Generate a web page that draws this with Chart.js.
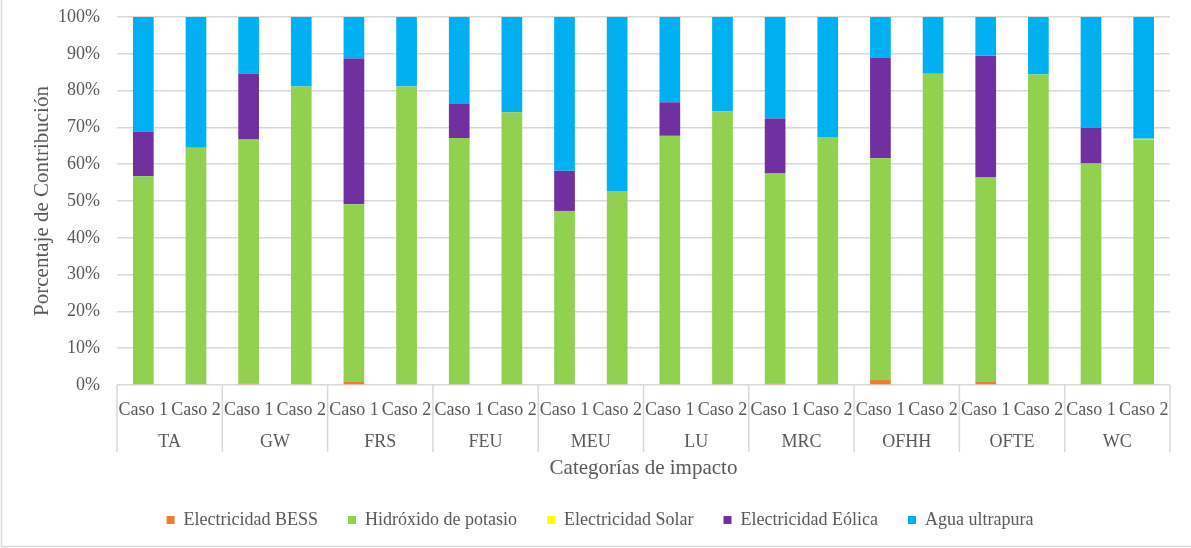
<!DOCTYPE html>
<html>
<head>
<meta charset="utf-8">
<script src="https://cdn.jsdelivr.net/npm/chart.js@4"></script>
<style>
  html, body { margin: 0; padding: 0; background: #fff; }
  #wrap { width: 1191px; height: 548px; }
</style>
</head>
<body>
<div id="wrap"><canvas id="grafico"></canvas></div>
<script>
const categorias = ['TA', 'GW', 'FRS', 'FEU', 'MEU', 'LU', 'MRC', 'OFHH', 'OFTE', 'WC'];
const casos = ['Caso 1', 'Caso 2'];
const etiquetas = categorias.flatMap(() => casos);

// porcentaje de cada fuente, orden: TA C1, TA C2, GW C1, GW C2, ...
const bess    = [0, 0, 0.4, 0, 1.0, 0, 0, 0, 0, 0, 0, 0, 0.4, 0, 1.5, 0, 1.0, 0, 0, 0];
const potasio = [56.7, 64.5, 66.3, 81.1, 48.1, 81.1, 67.1, 74.1, 47.3, 52.7,
                 67.7, 74.3, 57.1, 67.4, 60.1, 84.6, 55.4, 84.4, 60.2, 66.7];
const solar   = [0, 0, 0, 0, 0, 0, 0, 0, 0, 0, 0, 0, 0, 0, 0, 0, 0, 0, 0, 0.2];
const eolica  = [12.2, 0, 17.9, 0, 39.6, 0, 9.4, 0, 10.9, 0,
                 9.1, 0, 14.9, 0, 27.4, 0, 33.1, 0, 9.7, 0];
const agua    = [31.1, 35.5, 15.4, 18.9, 11.3, 18.9, 23.5, 25.9, 41.8, 47.3,
                 23.2, 25.7, 27.6, 32.6, 11.0, 15.4, 10.5, 15.6, 30.1, 33.1];

const gris = '#595959';
const lineas = '#d9d9d9';
Chart.defaults.font.family = "'Liberation Serif', 'Times New Roman', serif";
Chart.defaults.color = gris;

// separadores de grupo bajo el eje y marco del grafico
const separadores = {
  id: 'separadores',
  afterDraw(chart) {
    const c = chart.ctx;
    const x = chart.scales.x;
    const ancho = x.getPixelForValue(1) - x.getPixelForValue(0);
    const y0 = chart.chartArea.bottom;
    const y1 = chart.scales.x2.top + 30;
    c.save();
    c.strokeStyle = lineas;
    c.lineWidth = 1.5;
    for (let i = 0; i <= categorias.length; i++) {
      const px = x.getPixelForValue(2 * i) - ancho / 2;
      c.beginPath();
      c.moveTo(px, y0);
      c.lineTo(px, y1);
      c.stroke();
    }
    c.beginPath();
    c.moveTo(1.5, 0);
    c.lineTo(1.5, 546.5);
    c.lineTo(chart.width, 546.5);
    c.stroke();
    c.restore();
  }
};

const ctx = document.getElementById('grafico').getContext('2d');
new Chart(ctx, {
  type: 'bar',
  data: {
    labels: etiquetas,
    datasets: [
      { label: 'Electricidad BESS', data: bess, backgroundColor: '#ED7D31' },
      { label: 'Hidróxido de potasio', data: potasio, backgroundColor: '#92D050' },
      { label: 'Electricidad Solar', data: solar, backgroundColor: '#FFFF00' },
      { label: 'Electricidad Eólica', data: eolica, backgroundColor: '#7030A0' },
      { label: 'Agua ultrapura', data: agua, backgroundColor: '#00B0F0' }
    ]
  },
  options: {
    responsive: true,
    maintainAspectRatio: false,
    animation: false,
    datasets: {
      bar: { categoryPercentage: 1, barPercentage: 0.393 }
    },
    layout: { padding: { top: 17, right: 21, bottom: 9, left: 30 } },
    scales: {
      x: {
        stacked: true,
        afterFit(s) { s.height = 37; },
        grid: { display: false },
        border: { display: false },
        ticks: { autoSkip: false, maxRotation: 0, padding: 6, font: { size: 18 } }
      },
      x2: {
        type: 'category',
        labels: categorias,
        position: 'bottom',
        afterFit(s) { s.height = 59; },
        grid: { display: false },
        border: { display: false },
        ticks: { padding: 1, font: { size: 18 } },
        title: { display: true, text: 'Categorías de impacto', font: { size: 21 }, padding: { top: 4, bottom: 0 } }
      },
      y: {
        stacked: true,
        min: 0,
        max: 100,
        afterFit(s) { s.width = 87; s.paddingTop = 0; s.paddingBottom = 0; },
        grid: { color: lineas, lineWidth: 1.5, drawTicks: false },
        border: { display: false },
        ticks: { stepSize: 10, padding: 17, font: { size: 18 }, callback: v => v + '%' },
        title: { display: true, text: 'Porcentaje de Contribución', font: { size: 21 }, padding: { top: 0, bottom: 0 } }
      }
    },
    plugins: {
      legend: {
        position: 'bottom',
        labels: { boxWidth: 8, boxHeight: 8, padding: 30, font: { size: 18 }, color: gris }
      },
      tooltip: { enabled: false }
    }
  },
  plugins: [separadores]
});
</script>
</body>
</html>
